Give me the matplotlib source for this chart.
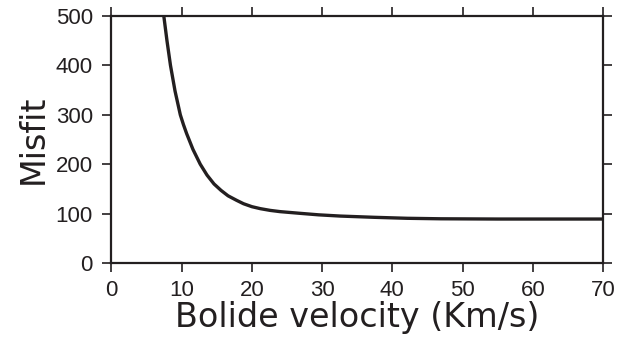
import matplotlib
matplotlib.use("Agg")
from matplotlib import pyplot as plt

# misfit versus assumed bolide velocity
velocity = [7.45, 7.9, 8.4, 9.05, 9.8, 10.25, 10.7, 11.6, 12.64, 13.6,
            14.6, 15.6, 16.6, 17.8, 18.8, 20.0, 21.2, 22.6, 24.0, 26.9,
            29.5, 32.6, 37.4, 42.1, 46.9, 55.0, 62.0, 70.0]
misfit = [500, 450, 400, 348, 300, 280, 262, 230, 200, 178,
          160, 147, 136, 127, 120, 114, 110, 106.5, 104, 100.5,
          97.5, 95, 92.5, 90.5, 89.5, 89, 89, 89]

x_ticks = [0, 10, 20, 30, 40, 50, 60, 70]
y_ticks = [0, 100, 200, 300, 400, 500]

fig = plt.figure(figsize=(6.19, 3.54), dpi=100)
ax = fig.add_axes([111.5 / 619, 1 - 263 / 354, (603 - 111.5) / 619, (263 - 16) / 354])

ax.plot(velocity, misfit, color='#231f20', lw=2.4, solid_joinstyle='round')

ax.set_xlim(0, 70)
ax.set_ylim(0, 500)
ax.set_xticks(x_ticks)
ax.set_yticks(y_ticks)

for side in ax.spines.values():
    side.set_linewidth(1.6)
    side.set_color('#231f20')

ax.tick_params(direction='out', length=6.5, width=1.2, color='#231f20',
               top=True, right=True, labeltop=False, labelright=False,
               labelsize=16, labelcolor='#231f20')
ax.tick_params(axis='x', pad=6)
ax.tick_params(axis='y', pad=7)
for lab in ax.get_xticklabels() + ax.get_yticklabels():
    lab.set_family('Liberation Sans')

ax.set_xlabel('Bolide velocity (Km/s)', fontsize=24, family='DejaVu Sans',
              color='#231f20', labelpad=0)
ax.set_ylabel('Misfit', fontsize=24, family='DejaVu Sans',
              color='#231f20', labelpad=4)

fig.savefig('out.png', dpi=100)
